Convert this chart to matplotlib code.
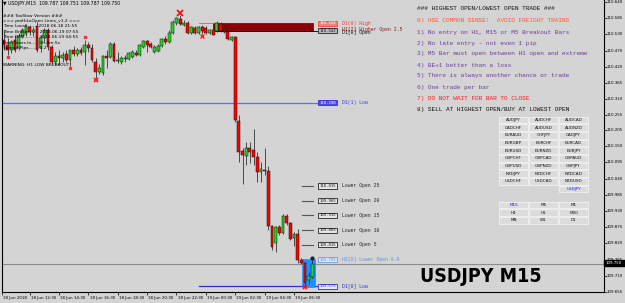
import matplotlib
matplotlib.use('Agg')
import matplotlib.pyplot as plt
from matplotlib.patches import Rectangle

W, H = 625, 303
BG = '#D4D4D4'

# ---------------- data ----------------
opens = [110.511,110.494,110.477,110.511,110.484,110.524,110.531,110.555,110.538,110.558,
         110.484,110.518,110.545,110.487,110.436,110.457,110.450,110.463,110.443,110.477,
         110.463,110.477,110.470,110.494,110.484,110.436,110.402,110.399,110.457,110.453,
         110.497,110.440,110.436,110.446,110.446,110.453,110.467,110.460,110.487,110.508,
         110.497,110.470,110.474,110.491,110.514,110.504,110.535,110.569,110.582,110.562,
         110.569,110.535,110.552,110.535,110.555,110.552,110.535,110.545,110.541,110.565,
         110.541,110.538,110.511,110.521,110.236,110.134,110.117,110.144,110.137,110.113,
         110.063,110.069,110.066,109.879,109.821,109.876,109.855,109.913,109.889,109.838,
         109.852,109.764,109.753,109.696,109.706]
highs = [110.545,110.518,110.511,110.528,110.535,110.552,110.565,110.562,110.555,110.572,
         110.528,110.552,110.552,110.494,110.470,110.477,110.470,110.477,110.470,110.491,
         110.484,110.487,110.511,110.504,110.497,110.450,110.429,110.460,110.477,110.504,
         110.504,110.470,110.457,110.460,110.470,110.477,110.477,110.497,110.511,110.511,
         110.504,110.494,110.497,110.518,110.524,110.545,110.579,110.589,110.596,110.579,
         110.575,110.558,110.558,110.558,110.562,110.558,110.548,110.552,110.575,110.572,
         110.552,110.541,110.524,110.524,110.256,110.144,110.164,110.164,110.209,110.130,
         110.096,110.144,110.083,109.882,109.879,109.882,109.920,109.920,109.893,109.859,
         109.869,109.770,109.757,109.723,109.767]
lows = [110.477,110.460,110.467,110.470,110.477,110.518,110.524,110.528,110.524,110.470,
        110.470,110.504,110.477,110.433,110.429,110.426,110.436,110.436,110.423,110.457,
        110.457,110.460,110.426,110.470,110.436,110.382,110.395,110.392,110.416,110.450,
        110.436,110.433,110.429,110.436,110.443,110.450,110.457,110.457,110.484,110.470,
        110.484,110.467,110.470,110.487,110.497,110.501,110.531,110.562,110.562,110.558,
        110.531,110.531,110.531,110.531,110.531,110.531,110.531,110.528,110.538,110.538,
        110.535,110.511,110.508,110.232,110.096,110.022,110.086,110.093,110.086,110.029,
        110.029,110.052,109.865,109.798,109.791,109.849,109.852,109.882,109.832,109.811,
        109.753,109.750,109.675,109.682,109.703]
closes = [110.494,110.477,110.504,110.477,110.524,110.545,110.558,110.538,110.545,110.477,
          110.518,110.545,110.487,110.436,110.457,110.450,110.460,110.443,110.477,110.463,
          110.477,110.467,110.494,110.484,110.443,110.402,110.416,110.457,110.450,110.497,
          110.440,110.443,110.450,110.450,110.467,110.470,110.460,110.494,110.508,110.494,
          110.487,110.487,110.491,110.514,110.504,110.535,110.572,110.586,110.565,110.569,
          110.535,110.555,110.535,110.555,110.541,110.535,110.545,110.528,110.569,110.541,
          110.538,110.514,110.521,110.239,110.130,110.120,110.144,110.130,110.113,110.063,
          110.073,110.066,109.879,109.808,109.876,109.855,109.913,109.889,109.835,109.852,
          109.764,109.753,109.685,109.709,109.750]

time_labels = ['18 Jun 2018', '18 Jun 12:30', '18 Jun 14:30', '18 Jun 16:30', '18 Jun 18:30',
               '18 Jun 20:30', '18 Jun 22:30', '19 Jun 00:30', '19 Jun 02:30', '19 Jun 04:30',
               '19 Jun 06:30']
time_label_bars = [-0.5, 7, 15, 23, 31, 39, 47, 55, 63, 71, 79]

price_ticks = [110.640, 110.585, 110.530, 110.475, 110.420, 110.365, 110.310, 110.255,
               110.205, 110.150, 110.095, 110.040, 109.985, 109.930, 109.875, 109.820,
               109.765, 109.710, 109.655]

d1_high = 110.568
d1_open = 110.542
d1_prev_low = 110.298
lower_open_levels = [110.015, 109.965, 109.915, 109.865, 109.815]
lower_open_names = ['Lower Open 25', 'Lower Open 20', 'Lower Open 15', 'Lower Open 10', 'Lower Open 5']
h1_open = 109.765
d1_low = 109.675
bid = 109.750

rules = [
    ('### HIGHEST OPEN/LOWEST OPEN TRADE ###', '#111111'),
    ('0) USE COMMON SENSE!  AVOID FREIGHT TRAINS', '#FF5A2A'),
    ('1) No entry on H1, M15 or M5 Breakout Bars', '#6E3AA0'),
    ('2) No late entry - not even 1 pip', '#6E3AA0'),
    ('3) M5 Bar must open between H1 open and extreme', '#6E3AA0'),
    ('4) BE+1 better than a loss', '#6E3AA0'),
    ('5) There is always another chance or trade', '#6E3AA0'),
    ('6) One trade per bar', '#6E3AA0'),
    ('7) DO NOT WAIT FOR BAR TO CLOSE', '#FF1A1A'),
    ('8) SELL AT HIGHEST OPEN/BUY AT LOWEST OPEN', '#111111'),
]

symbols = [['AUDJPY', 'AUDCHF', 'AUDCAD'],
           ['CADCHF', 'AUDUSD', 'AUDNZD'],
           ['EURAUD', 'CHFJPY', 'CADJPY'],
           ['EURGBP', 'EURCHF', 'EURCAD'],
           ['EURUSD', 'EURNZD', 'EURJPY'],
           ['GBPCHF', 'GBPCAD', 'GBPAUD'],
           ['GBPUSD', 'GBPNZD', 'GBPJPY'],
           ['NZDJPY', 'NZDCHF', 'NZDCAD'],
           ['USDCHF', 'USDCAD', 'NZDUSD'],
           ['', '', 'USDJPY']]
timeframes = [['M15', 'M5', 'M1'], ['H4', 'H1', 'M30'], ['MN', 'W1', 'D1']]

info_lines = ['### TooSlow Version ###',
              '=== pmHiLoOpen Lines_v1.2 ===',
              'Time Local........ 2018.06.18 21:55',
              'Time Broker....... 2018.06.19 07:55',
              'Time GMT.......... 2018.06.19 04:55',
              'Bar Closes In..... 0h:4m:5s',
              'Spread Pips....... 1.2']

# ---------------- figure ----------------
fig = plt.figure(figsize=(W / 100, H / 100), dpi=100)
fig.patch.set_facecolor(BG)

def fx(x):
    return x / W

def fy(y):
    return 1 - y / H

ax_l, ax_r, ax_t, ax_b = 2, 604, 0, 292
ax = fig.add_axes([fx(ax_l), fy(ax_b), (ax_r - ax_l) / W, (ax_b - ax_t) / H])
ax.set_facecolor(BG)
px_per_bar = 3.67
x0_px = 4
ax.set_xlim((ax_l - x0_px) / px_per_bar, (ax_r - x0_px) / px_per_bar)
ppu = 294.4
ax.set_ylim(110.640 - (ax_b - 2) / ppu, 110.640 + 2 / ppu)
for s in ax.spines.values():
    s.set_color('#000000')
    s.set_linewidth(0.8)
ax.spines['top'].set_visible(False)

# price axis
ax.yaxis.tick_right()
ax.set_yticks(price_ticks)
ax.set_yticklabels([])
ax.tick_params(axis='y', direction='out', length=2, width=0.5, colors='#000000')
ytr = ax.get_yaxis_transform()
for p in price_ticks:
    ax.text(1.0035, p, '%.3f' % p, transform=ytr, fontsize=2.9, ha='left', va='center',
            color='#000000', clip_on=False)
ax.set_xticks(time_label_bars)
ax.set_xticklabels([])
ax.tick_params(axis='x', direction='out', length=2, width=0.5)
for lab, b in zip(time_labels, time_label_bars):
    ax.text(b + 0.3, -0.012, lab, transform=ax.get_xaxis_transform(), fontsize=2.9,
            ha='left', va='top', color='#000000')

# bid line
ax.axhline(bid, color='#8C8C8C', lw=0.8, zorder=1)

# D1 high/open rectangle
ax.add_patch(Rectangle((57, d1_open), 84.3 - 57, d1_high - d1_open,
                       facecolor='#8B0000', edgecolor='#5A0000', lw=0.5, zorder=2))
ax.plot([53, 57], [d1_high, d1_high], color='#FF6060', lw=0.7, zorder=2)
ax.plot([57, 85.3], [d1_open, d1_open], color='#000000', lw=0.6, zorder=2)

# D1 previous low line
ax.plot([-1, 85.3], [d1_prev_low, d1_prev_low], color='#6A6AF0', lw=0.9, zorder=2)
# D1 low line
ax.plot([53.1, 85.3], [d1_low, d1_low], color='#3030C0', lw=0.9, zorder=2)

# H1 current bar box
ax.add_patch(Rectangle((81.2, 109.672), 3.5, 109.767 - 109.672,
                       facecolor='#1E90FF', edgecolor='#1E90FF', lw=0.5, zorder=2))

# lower open dashes
for lv in lower_open_levels:
    ax.plot([81.2, 84.2], [lv, lv], color='#555555', lw=0.8, zorder=2)

# candles
for i in range(len(opens)):
    o, h, l, c = opens[i], highs[i], lows[i], closes[i]
    ax.vlines(i, l, h, color='#333333', lw=0.6, zorder=3)
    bottom = min(o, c)
    height = max(abs(c - o), 0.0015)
    col = '#1ED81E' if c > o else ('#FF0000' if c < o else '#999999')
    ax.add_patch(Rectangle((i - 0.38, bottom), 0.76, height, facecolor=col,
                           edgecolor='#111111', lw=0.35, zorder=4))

# markers
ax.plot([48], [110.601], marker='x', color='#FF1010', ms=4, mew=1.3, zorder=5)
ax.plot([25], [110.375], marker='x', color='#FF1010', ms=3.5, mew=1.2, zorder=5)
ax.plot([82], [109.673], marker='x', color='#FF1010', ms=3.5, mew=1.2, zorder=5)
ax.plot([54], [110.524], marker='x', color='#FF1010', ms=2.5, mew=0.9, zorder=5)
ax.plot([1, 18, 22], [110.453, 110.416, 110.521], marker='s', ls='none',
        color='#FF3030', ms=1.5, zorder=5)
ax.plot([84], [109.769], marker='o', color='#222222', ms=2, zorder=5)

# level boxes
box_x0, box_w, box_h = 85.6, 5.2, 0.017

def level_box(level, label, fc, ec, tc, text, text_color):
    ax.add_patch(Rectangle((box_x0, level - box_h / 2), box_w, box_h, facecolor=fc,
                           edgecolor=ec, lw=0.6, zorder=5))
    ax.text(box_x0 + box_w / 2, level, label, fontsize=2.9, ha='center', va='center',
            color=tc, zorder=6, family='DejaVu Sans Mono')
    if text:
        ax.text(92.1, level, text, fontsize=3.4, ha='left', va='center', color=text_color,
                zorder=6, family='Liberation Mono')

level_box(d1_high, '%.3f' % d1_high, '#F08080', '#FF4040', '#FFFFFF', 'D1(0) High', '#FF3030')
level_box(d1_open, '%.3f' % d1_open, '#BBBBBB', '#222222', '#111111', '', '')
ax.text(92.1, d1_open + 0.004, 'H1[2] Higher Open 2.5', fontsize=3.4, ha='left', va='center',
        color='#8B1A1A', zorder=6, family='Liberation Mono')
ax.text(92.1, d1_open - 0.004, 'D1[0] Open', fontsize=3.4, ha='left', va='center',
        color='#111111', zorder=6, family='Liberation Mono')
level_box(d1_prev_low, '%.3f' % d1_prev_low, '#4A4AF0', '#3030D0', '#FFFFFF', 'D1(1) Low', '#3A3AE0')
for lv, nm in zip(lower_open_levels, lower_open_names):
    level_box(lv, '%.3f' % lv, '#E6E6E6', '#222222', '#111111', nm, '#222222')
level_box(h1_open, '%.3f' % h1_open, '#D8E6F8', '#6FA0E0', '#5B8FD8', 'H1[0] Lower Open 0.0', '#5B8FD8')
level_box(d1_low, '%.3f' % d1_low, '#E8E8F8', '#3030D0', '#3030D0', 'D1[0] Low', '#3030C0')

# current price label on axis
fig.patches.append(Rectangle((fx(604), fy(266)), 21 / W, 6 / H, transform=fig.transFigure,
                             facecolor='#000000', edgecolor='#000000'))
fig.text(fx(606), fy(263), '%.3f' % bid, fontsize=2.9, color='#FFFFFF', va='center', ha='left')

# title
fig.text(fx(3), fy(4), '\u25bc USDJPY,M15  109.787 109.751 109.787 109.750', fontsize=3.3,
         va='center', ha='left', color='#000000', family='DejaVu Sans')

# info text
info_y = [15.7, 20.9, 26.2, 31.8, 37.3, 42.8, 48.3]
for t, y in zip(info_lines, info_y):
    fig.text(fx(3), fy(y), t, fontsize=3.2, va='center', ha='left', color='#000000')
fig.text(fx(3), fy(65.3), 'WARNING: H1 LOW BREAKOUT', fontsize=3.2, va='center', ha='left',
         color='#000000')

# rules text
rule_y = [8.3, 20.7, 32.3, 43.3, 54.0, 65.0, 76.0, 87.3, 98.3, 109.0]
for (t, c), y in zip(rules, rule_y):
    fig.text(fx(417), fy(y), t, fontsize=4.45, va='center', ha='left', color=c,
             family='Liberation Mono')

# buttons
col_x = [499.3, 529.3, 559.3]
bw, bh = 28.5, 6.8

def button(xl, yc, label, color):
    fig.patches.append(Rectangle((fx(xl), fy(yc + bh / 2)), bw / W, bh / H,
                                 transform=fig.transFigure, facecolor='#DCDCDC',
                                 edgecolor='#F2F2F2', lw=0.6))
    fig.text(fx(xl + bw / 2), fy(yc), label, fontsize=3.0, ha='center', va='center',
             color=color)

sym_rows_y = [120, 127.7, 135.3, 143, 150.7, 158.3, 166, 173.7, 181.3, 189]
for r, row in enumerate(symbols):
    for c, s in enumerate(row):
        if s:
            button(col_x[c], sym_rows_y[r], s, '#2020E0' if s == 'USDJPY' else '#111111')
tf_rows_y = [205, 212.7, 220.3]
for r, row in enumerate(timeframes):
    for c, s in enumerate(row):
        button(col_x[c], tf_rows_y[r], s, '#2020E0' if s == 'M15' else '#111111')

# big symbol text
fig.text(fx(481), fy(276), 'USDJPY M15', fontsize=14, fontweight='bold', ha='center',
         va='center', color='#000000', family=['DejaVu Sans'], fontstretch='condensed')

fig.savefig('out.png', dpi=100, facecolor=BG)
